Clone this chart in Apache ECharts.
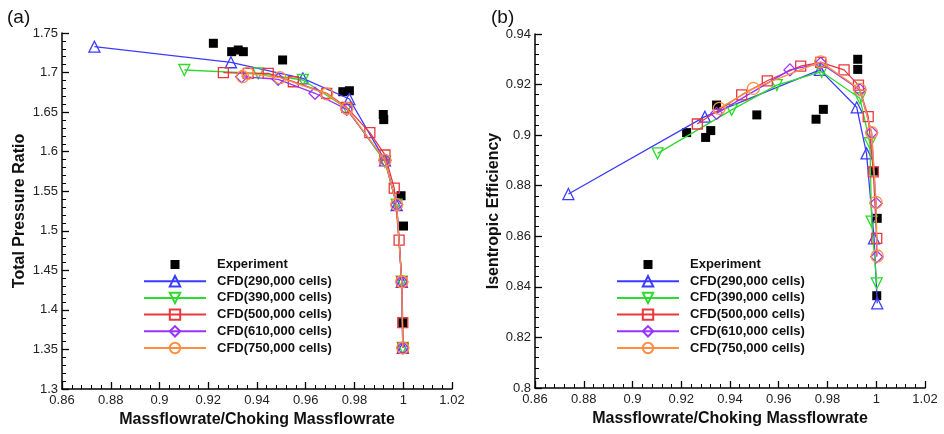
<!DOCTYPE html>
<html><head><meta charset="utf-8">
<script src="https://cdn.jsdelivr.net/npm/echarts@6/dist/echarts.min.js"></script>
<style>html,body{margin:0;padding:0;background:#fff}#c{width:944px;height:434px}</style>
</head><body><div id="c"></div>
<script>
const seriesNames = ['Experiment','CFD(290,000 cells)','CFD(390,000 cells)','CFD(500,000 cells)','CFD(610,000 cells)','CFD(750,000 cells)'];
// (a) Total pressure ratio
const prExp = [[0.9221,1.737],[0.9296,1.7264],[0.9323,1.7285],[0.9344,1.7264],[0.9505,1.7159],[0.9752,1.6758],[0.9779,1.677],[0.9918,1.647],[0.992,1.6405],[0.9991,1.5443],[1.0001,1.506],[0.9998,1.3838]];
const pr290 = [[0.8733,1.7327],[0.9293,1.713],[0.9588,1.6927],[0.9779,1.6666],[0.9925,1.589],[0.9973,1.5326],[0.9994,1.4356],[0.9998,1.352]];
const pr390 = [[0.9102,1.7032],[0.9405,1.699],[0.9588,1.6906],[0.9768,1.6548],[0.9925,1.587],[0.9973,1.533],[0.9994,1.4356],[0.9998,1.352]];
const pr500 = [[0.9262,1.6998],[0.9364,1.699],[0.9446,1.699],[0.9549,1.6884],[0.9686,1.6738],[0.9768,1.656],[0.9863,1.624],[0.9925,1.5958],[0.9963,1.554],[0.9983,1.4883],[0.9994,1.4356],[0.9998,1.3838],[0.9999,1.352]];
const pr610 = [[0.9337,1.6948],[0.9487,1.6915],[0.9638,1.6738],[0.9768,1.6535],[0.9925,1.589],[0.9973,1.533],[0.9994,1.4356],[0.9998,1.352]];
const pr750 = [[0.9341,1.6948],[0.9362,1.699],[0.9494,1.6935],[0.9686,1.673],[0.9768,1.6548],[0.9925,1.589],[0.9973,1.533],[0.9994,1.4356],[0.9998,1.352]];
// (b) Isentropic efficiency
const efExp = [[0.9222,0.901],[0.93,0.8991],[0.9321,0.9018],[0.9345,0.9119],[0.951,0.908],[0.9753,0.9063],[0.9783,0.9102],[0.9924,0.93],[0.9924,0.926],[0.9991,0.8858],[1.0004,0.8671],[1.0002,0.8365]];
const ef290 = [[0.8737,0.8767],[0.9297,0.9073],[0.9769,0.9258],[0.992,0.911],[0.996,0.8928],[0.9991,0.8592],[1.0004,0.8335]];
const ef390 = [[0.9103,0.8928],[0.9407,0.91],[0.9592,0.9198],[0.9776,0.9251],[0.9933,0.9146],[0.9974,0.8968],[0.9981,0.8658],[1.0002,0.8414]];
const ef500 = [[0.9266,0.9044],[0.9448,0.9159],[0.9553,0.9215],[0.969,0.9273],[0.9772,0.9288],[0.9868,0.9258],[0.9927,0.9198],[0.9967,0.9073],[0.9988,0.8855],[1.0002,0.8592]];
const ef610 = [[0.9345,0.9086],[0.9646,0.9258],[0.9772,0.9284],[0.9933,0.9179],[0.9981,0.901],[0.9999,0.873],[1.0002,0.8519]];
const ef750 = [[0.9356,0.9106],[0.9496,0.9185],[0.9772,0.929],[0.9933,0.9181],[0.9981,0.901],[0.9999,0.8734],[1.0004,0.8522]];

const xTitle = 'Massflowrate/Choking Massflowrate';
const yTitles = ['Total Pressure Ratio','Isentropic Efficiency'];
const panelLabels = ['(a)','(b)'];

const colors = ['#000000','#3b3bff','#2fd92f','#e8383d','#9933ff','#ff8f3f'];
const symbols = ['rect','triangle','triangle','rect','diamond','circle'];
const sizes = [9,11,11,10,12,12];
const rotates = [0,0,180,0,0,0];
const FONT = '"Liberation Sans", Arial, sans-serif';
const fmt = v => String(+(+v).toFixed(4));

function xAxis(gi){
  return {type:'value',gridIndex:gi,min:0.86,max:1.02,interval:0.02,
    axisLine:{show:true,onZero:false,lineStyle:{color:'#000',width:1.5}},
    axisTick:{show:true,inside:true,length:7,lineStyle:{color:'#000',width:1.3}},
    minorTick:{show:true,splitNumber:5,length:4,lineStyle:{color:'#000',width:1}},
    splitLine:{show:false},
    axisLabel:{formatter:fmt,color:'#222',fontSize:13,fontFamily:FONT,margin:5},
    name:xTitle,nameLocation:'middle',nameGap:22,
    nameTextStyle:{fontSize:16,fontWeight:'bold',color:'#111',fontFamily:FONT}};
}
function yAxis(gi,min,max,iv,gap){
  return {type:'value',gridIndex:gi,min:min,max:max,interval:iv,
    axisLine:{show:true,onZero:false,lineStyle:{color:'#000',width:1.5}},
    axisTick:{show:true,inside:true,length:7,lineStyle:{color:'#000',width:1.3}},
    minorTick:{show:true,splitNumber:5,length:4,lineStyle:{color:'#000',width:1}},
    splitLine:{show:false},
    axisLabel:{formatter:fmt,color:'#222',fontSize:13,fontFamily:FONT,margin:4},
    name:yTitles[gi],nameLocation:'middle',nameGap:gap,nameRotate:90,
    nameTextStyle:{fontSize:16,fontWeight:'bold',color:'#111',fontFamily:FONT}};
}
function mk(i,gi,data){
  const isExp = i===0;
  return {name:seriesNames[i],type:isExp?'scatter':'line',xAxisIndex:gi,yAxisIndex:gi,
    data:data,symbol:symbols[i],symbolSize:sizes[i],symbolRotate:rotates[i],
    showSymbol:true,animation:false,z:isExp?2:3+i,
    lineStyle:{color:colors[i],width:1.3},
    itemStyle:isExp?{color:'#000',opacity:1}:{color:'rgba(255,255,255,0)',borderColor:colors[i],borderWidth:1.3},
    emphasis:{disabled:true}};
}
const dataA=[prExp,pr290,pr390,pr500,pr610,pr750];
const dataB=[efExp,ef290,ef390,ef500,ef610,ef750];
const series=[];
dataA.forEach((d,i)=>series.push(mk(i,0,d)));
dataB.forEach((d,i)=>series.push(mk(i,1,d)));

function legend(left){
  const items = seriesNames.map((n,i)=> i===0
    ? {name:n,icon:'path://M0,0M2,2L11,2L11,11L2,11ZM13,13',itemStyle:{color:'#000',opacity:1}}
    : {name:n});
  return {orient:'vertical',left:left,top:253,itemWidth:62,itemHeight:13,itemGap:3.7,
    data:items,selectedMode:false,symbolKeepAspect:true,
    textStyle:{fontSize:13,fontWeight:'bold',color:'#111',fontFamily:FONT,padding:[0,0,0,6]}};
}
const chart=echarts.init(document.getElementById('c'),null,{renderer:'canvas'});
chart.setOption({
  animation:false,backgroundColor:'#fff',
  title:[{text:panelLabels[0],left:2,top:3,textStyle:{fontSize:19,fontWeight:'normal',color:'#111',fontFamily:FONT}},
         {text:panelLabels[1],left:486,top:3,textStyle:{fontSize:19,fontWeight:'normal',color:'#111',fontFamily:FONT}}],
  grid:[{left:62,top:33,width:390,height:356},{left:535,top:34,width:390,height:354}],
  xAxis:[xAxis(0),xAxis(1)],
  yAxis:[yAxis(0,1.3,1.75,0.05,34),yAxis(1,0.8,0.94,0.02,33)],
  legend:[legend(138),legend(611)],
  series:series
});
</script></body></html>
